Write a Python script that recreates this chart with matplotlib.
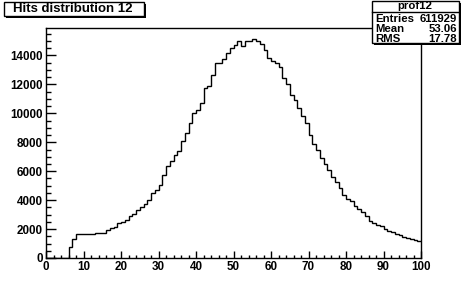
import numpy as np
import matplotlib
matplotlib.use("Agg")
import matplotlib.pyplot as plt
from matplotlib.patches import Rectangle
from matplotlib.ticker import MultipleLocator

plt.rcParams['font.family'] = ['Liberation Sans', 'DejaVu Sans']
plt.rcParams['font.weight'] = 'bold'

# histogram contents, bins of width 1 from 0 to 100
bin_edges = np.arange(0, 101, 1)
counts = [
    0, 0, 0, 0, 0, 0, 750, 1300, 1640, 1650,
    1660, 1670, 1690, 1700, 1710, 1720, 1940, 2100, 2170, 2410,
    2520, 2640, 2870, 3050, 3330, 3560, 3750, 4020, 4490, 4720,
    5070, 5760, 6350, 6690, 7150, 7380, 8080, 8650, 9340, 10030,
    10250, 10720, 11750, 11870, 12680, 13490, 13500, 13770, 14190, 14550,
    14700, 15000, 14650, 15000, 15000, 15150, 15000, 14800, 14400, 13850,
    13600, 13450, 13200, 12450, 12000, 11300, 10900, 10400, 9800, 9300,
    8500, 7900, 7500, 6900, 6500, 6100, 5600, 5250, 4850, 4350,
    4100, 3950, 3600, 3400, 3200, 2900, 2550, 2420, 2300, 2180,
    2000, 1880, 1770, 1680, 1590, 1450, 1350, 1330, 1260, 1180,
]
title = "Hits distribution 12"
stats_name = "prof12"
stats_rows = [("Entries", "611929"), ("Mean", "53.06"), ("RMS", "17.78")]

W, H = 463, 288
fig = plt.figure(figsize=(W / 100, H / 100), dpi=100)
ax = fig.add_axes([46 / W, 30 / H, 375 / W, 230 / H])

ax.stairs(counts, bin_edges, color='black', lw=1.0, baseline=None)
ax.set_xlim(0, 100)
ax.set_ylim(0, 15900)

ax.xaxis.set_major_locator(MultipleLocator(10))
ax.xaxis.set_minor_locator(MultipleLocator(2))
ax.yaxis.set_major_locator(MultipleLocator(2000))
ax.yaxis.set_minor_locator(MultipleLocator(500))
ax.tick_params(axis='both', which='both', direction='in', top=False, right=False,
               labelsize=8.4, width=1.0, color='black')
ax.tick_params(axis='x', which='major', length=5.0, pad=2.0)
ax.tick_params(axis='x', which='minor', length=2.5)
ax.tick_params(axis='y', which='major', length=7.5, pad=2.5)
ax.tick_params(axis='y', which='minor', length=3.8)
for lab in ax.get_xticklabels() + ax.get_yticklabels():
    lab.set_fontweight('bold')
for s in ax.spines.values():
    s.set_linewidth(1.0)


def px_box(x0, y0, x1, y1, shadow=2):
    # box given in pixel coords from the top-left corner, with a ROOT style shadow
    fig.patches.append(Rectangle((x0 / W + shadow / W, 1 - y1 / H - shadow / H),
                                 (x1 - x0) / W, (y1 - y0) / H,
                                 transform=fig.transFigure, facecolor='black',
                                 edgecolor='black', lw=0, zorder=5))
    fig.patches.append(Rectangle((x0 / W, 1 - y1 / H), (x1 - x0) / W, (y1 - y0) / H,
                                 transform=fig.transFigure, facecolor='white',
                                 edgecolor='black', lw=1.0, zorder=6))


# title box
px_box(4, 2, 144, 16)
fig.text(73 / W, 1 - 9.5 / H, title, ha='center', va='center', fontsize=9.5,
         fontweight='bold', zorder=7)

# stats box
px_box(372, 1, 459, 43)
fig.add_artist(plt.Line2D([372 / W, 459 / W], [1 - 11.5 / H, 1 - 11.5 / H],
                          transform=fig.transFigure, color='black', lw=1.0, zorder=7))
fig.text(415 / W, 1 - 6 / H, stats_name, ha='center', va='center', fontsize=8.2,
         fontweight='bold', zorder=7)
for i, (k, v) in enumerate(stats_rows):
    y = 1 - (19.5 + i * 9.7) / H
    fig.text(375 / W, y, k, ha='left', va='center', fontsize=8.2, fontweight='bold', zorder=7)
    fig.text(457 / W, y, v, ha='right', va='center', fontsize=8.2, fontweight='bold', zorder=7)

fig.savefig("out.png", dpi=100)
